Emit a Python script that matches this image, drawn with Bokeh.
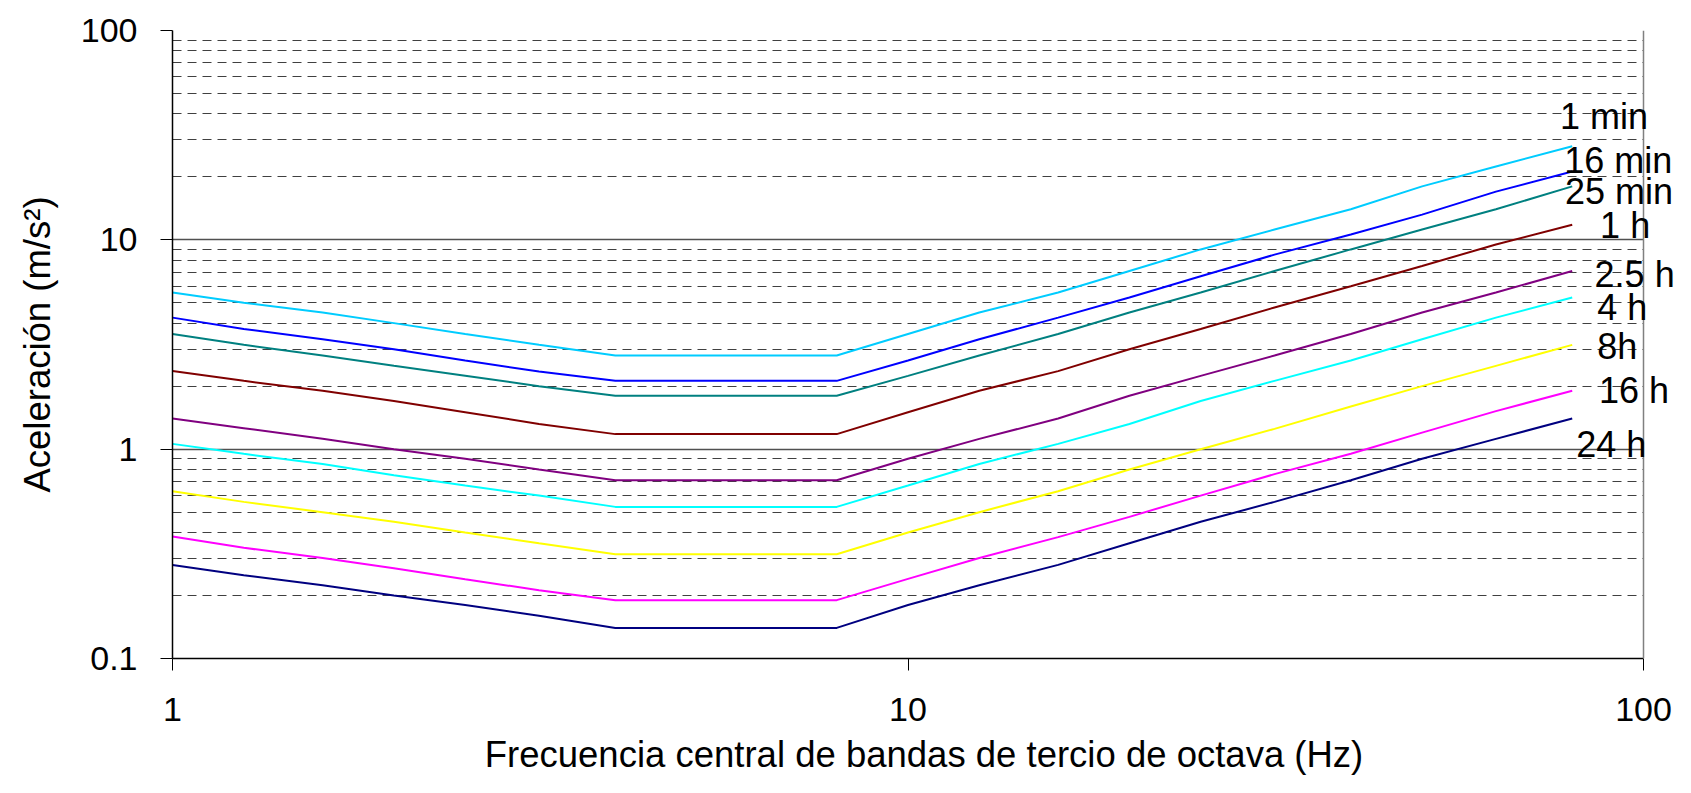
from bokeh.plotting import figure
from bokeh.models import (Range1d, FixedTicker, Label, CustomJSTickFormatter,
                          BoxAnnotation, Span)
from bokeh.embed import file_html
from bokeh.resources import INLINE

# One-third octave band centre frequencies (Hz)
freq = [1, 1.25, 1.6, 2, 2.5, 3.15, 4, 5, 6.3, 8, 10, 12.5, 16, 20, 25, 31.5, 40, 50, 63, 80]

# Acceleration limits (m/s^2) per exposure time
a_1min  = [5.6, 5.0, 4.5, 4.0, 3.55, 3.15, 2.8, 2.8, 2.8, 2.8, 3.55, 4.5, 5.6, 7.1, 9.0, 11.2, 14.0, 18.0, 22.4, 28.0]
a_16min = [4.25, 3.75, 3.35, 3.0, 2.65, 2.35, 2.12, 2.12, 2.12, 2.12, 2.65, 3.35, 4.25, 5.3, 6.7, 8.5, 10.6, 13.2, 17.0, 21.2]
a_25min = [3.55, 3.15, 2.8, 2.5, 2.24, 2.0, 1.8, 1.8, 1.8, 1.8, 2.24, 2.8, 3.55, 4.5, 5.6, 7.1, 9.0, 11.2, 14.0, 18.0]
a_1h    = [2.36, 2.12, 1.9, 1.7, 1.5, 1.32, 1.18, 1.18, 1.18, 1.18, 1.5, 1.9, 2.36, 3.0, 3.75, 4.75, 6.0, 7.5, 9.5, 11.8]
a_2_5h  = [1.4, 1.26, 1.12, 1.0, 0.9, 0.8, 0.71, 0.71, 0.71, 0.71, 0.9, 1.12, 1.4, 1.8, 2.24, 2.8, 3.55, 4.5, 5.6, 7.1]
a_4h    = [1.06, 0.95, 0.85, 0.75, 0.67, 0.6, 0.53, 0.53, 0.53, 0.53, 0.67, 0.85, 1.06, 1.32, 1.7, 2.12, 2.65, 3.35, 4.25, 5.3]
a_8h    = [0.63, 0.56, 0.5, 0.45, 0.4, 0.355, 0.315, 0.315, 0.315, 0.315, 0.4, 0.5, 0.63, 0.8, 1.0, 1.25, 1.6, 2.0, 2.5, 3.15]
a_16h   = [0.383, 0.338, 0.302, 0.27, 0.239, 0.212, 0.19, 0.19, 0.19, 0.19, 0.24, 0.302, 0.38, 0.475, 0.6, 0.76, 0.95, 1.2, 1.52, 1.9]
a_24h   = [0.28, 0.25, 0.224, 0.2, 0.18, 0.16, 0.14, 0.14, 0.14, 0.14, 0.18, 0.224, 0.28, 0.355, 0.45, 0.56, 0.71, 0.9, 1.12, 1.4]

series_names = ["1 min", "16 min", "25 min", "1 h", "2.5 h", "4 h", "8h", "16 h", "24 h"]
series_values = [a_1min, a_16min, a_25min, a_1h, a_2_5h, a_4h, a_8h, a_16h, a_24h]

# Axis ticks
x_ticks = [1, 10, 100]
y_ticks = [0.1, 1, 10, 100]
y_minor = [0.2, 0.3, 0.4, 0.5, 0.6, 0.7, 0.8, 0.9,
           2, 3, 4, 5, 6, 7, 8, 9,
           20, 30, 40, 50, 60, 70, 80, 90]
x_axis_end = 100

# Styles and label positions (kept apart from data)
colors = ["#00CCFF", "#0000FF", "#008080", "#800000", "#800080",
          "#00FFFF", "#FFFF00", "#FF00FF", "#000080"]
label_x = [77.0, 78.0, 78.2, 87.3, 85.8, 86.5, 86.5, 87.0, 81.0]
label_y = [38.8, 24.0, 17.0, 11.7, 6.85, 4.75, 3.1, 1.9, 1.053]

FONT = "Liberation Sans"

# Layout: the plotting frame runs to the right edge of the canvas so that
# the curve labels beyond x=100 are not clipped; the axis ends at 100.
W, H = 1675, 777
LEFT, TOP, BOTTOM = 172, 30, 119
AXIS_PX = 1471  # pixel length of the 1..100 decade span
x_end = 10 ** (2.0 * (W - LEFT) / AXIS_PX)

p = figure(width=W, height=H,
           x_axis_type="log", y_axis_type="log",
           x_range=Range1d(1, x_end), y_range=Range1d(0.1, 100),
           output_backend="svg", toolbar_location=None,
           min_border_left=LEFT, min_border_right=0,
           min_border_top=TOP, min_border_bottom=BOTTOM)

p.background_fill_color = "white"
p.border_fill_color = "white"
p.outline_line_color = None

for vals, col in zip(series_values, colors):
    p.line(freq, vals, line_color=col, line_width=2)

# blank out grid beyond the end of the x axis, then draw plot-area border
p.add_layout(BoxAnnotation(left=x_axis_end, fill_color="white", fill_alpha=1.0,
                           line_color=None))
p.add_layout(Span(location=x_axis_end, dimension="height",
                  line_color="#808080", line_width=1.5))

for name, lx, ly in zip(series_names, label_x, label_y):
    p.add_layout(Label(x=lx, y=ly, text=name, text_font=FONT,
                       text_font_size="36px", text_color="black",
                       text_align="left", text_baseline="alphabetic"))

fmt = CustomJSTickFormatter(code="return tick.toString();")

p.xaxis.ticker = FixedTicker(ticks=x_ticks)
p.yaxis.ticker = FixedTicker(ticks=y_ticks, minor_ticks=y_minor)
p.xaxis.formatter = fmt
p.yaxis.formatter = fmt
p.xaxis.bounds = (1, x_axis_end)

for ax in (p.xaxis, p.yaxis):
    ax.axis_line_color = "black"
    ax.axis_line_width = 1.5
    ax.major_tick_line_color = "black"
    ax.major_tick_line_width = 1
    ax.major_tick_out = 12
    ax.major_tick_in = 0
    ax.minor_tick_line_color = None
    ax.major_label_text_font = FONT
    ax.major_label_text_font_size = "34px"
    ax.major_label_text_color = "black"
    ax.axis_label_text_font = FONT
    ax.axis_label_text_font_size = "36.5px"
    ax.axis_label_text_font_style = "normal"
    ax.axis_label_text_color = "black"

p.xaxis.major_label_standoff = 27
p.yaxis.major_label_standoff = 23
p.xaxis.axis_label_standoff = 10
p.yaxis.axis_label_standoff = 20

p.xaxis.axis_label = "Frecuencia central de bandas de tercio de octava (Hz)"
p.yaxis.axis_label = "Aceleración (m/s²)"

p.xgrid.grid_line_color = None
p.ygrid.grid_line_color = "#505050"
p.ygrid.grid_line_width = 1.3
p.ygrid.minor_grid_line_color = "#404040"
p.ygrid.minor_grid_line_width = 1
p.ygrid.minor_grid_line_dash = "9 6"

open("out.html", "w").write(file_html(p, INLINE))
